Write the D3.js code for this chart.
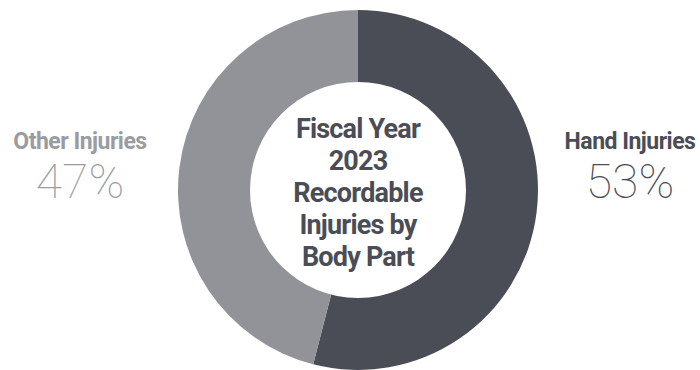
<!DOCTYPE html>
<html>
<head>
<meta charset="utf-8">
<script src="https://cdn.jsdelivr.net/npm/d3@7"></script>
<style>
  html, body { margin: 0; padding: 0; background: #fff; }
  svg { display: block; }
</style>
</head>
<body>
<svg id="chart" width="700" height="370"></svg>
<script>
const categories = ["Hand Injuries", "Other Injuries"];
const sliceValues = [54, 46];          // arc sizes as drawn
const percentLabels = ["53%", "47%"];  // labels as printed
const colors = ["#4a4d55", "#919399"];
const labelColors = ["#4a4d55", "#9a9ca1"];
const centerTitle = ["Fiscal Year", "2023", "Recordable", "Injuries by", "Body Part"];

const svg = d3.select("#chart");
const cx = 358, cy = 190, rOuter = 180, rInner = 108;

const pie = d3.pie().sort(null).value(d => d);
const arc = d3.arc().innerRadius(0).outerRadius(rOuter);

const g = svg.append("g").attr("transform", `translate(${cx},${cy})`);
g.selectAll("path").data(pie(sliceValues)).join("path")
  .attr("d", arc)
  .attr("fill", (d, i) => colors[i]);

g.append("circle").attr("r", rInner).attr("fill", "#fff");

const title = g.append("text")
  .attr("text-anchor", "middle")
  .attr("font-family", "Roboto, sans-serif")
  .attr("font-weight", "bold")
  .attr("font-size", 27)
  .attr("letter-spacing", -0.8)
  .attr("fill", "#4a4d55");
centerTitle.forEach((t, i) => {
  title.append("tspan").attr("x", 0).attr("y", -52 + i * 32).text(t);
});

const labelX = [630, 80];
categories.forEach((c, i) => {
  svg.append("text")
    .attr("x", labelX[i]).attr("y", 149)
    .attr("text-anchor", "middle")
    .attr("font-family", "Roboto, sans-serif")
    .attr("font-weight", "bold")
    .attr("font-size", 23)
    .attr("letter-spacing", -0.5)
    .attr("fill", labelColors[i])
    .text(c);
  svg.append("text")
    .attr("x", labelX[i]).attr("y", 198)
    .attr("text-anchor", "middle")
    .attr("font-family", "Roboto, 'Open Sans', sans-serif")
    .attr("font-weight", 100)
    .attr("font-size", 48)
    .attr("fill", labelColors[i])
    .text(percentLabels[i]);
});
</script>
</body>
</html>
